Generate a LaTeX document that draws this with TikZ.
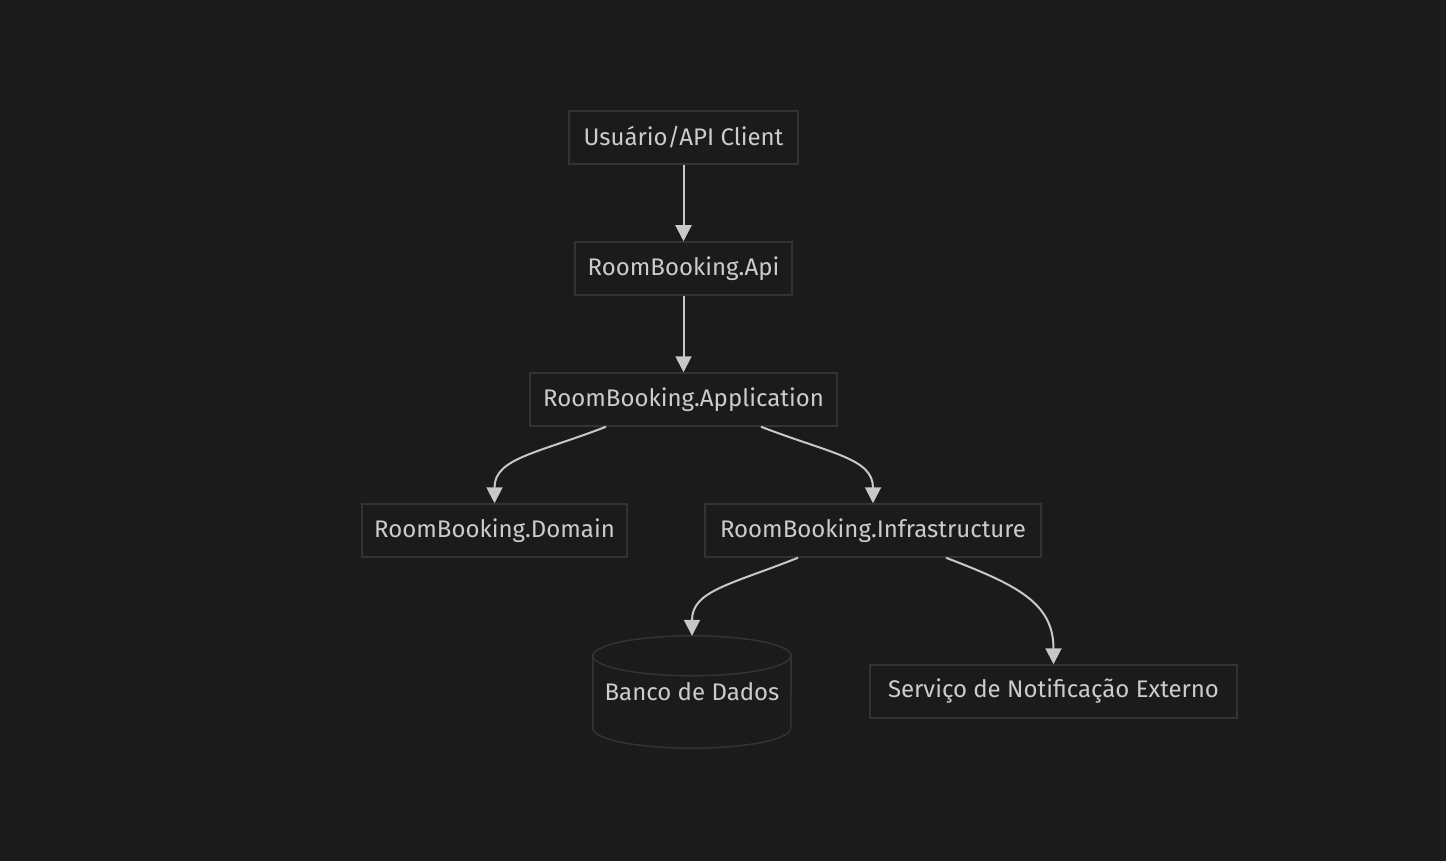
\documentclass[tikz,border=0pt]{standalone}
\usepackage{fontspec}
\setmainfont{Fira Sans}
\usetikzlibrary{arrows.meta}
\definecolor{bgcol}{HTML}{1B1B1B}
\definecolor{boxline}{HTML}{333333}
\definecolor{boxtext}{HTML}{CCCCCC}
\definecolor{linkcol}{HTML}{C8C8C8}

\begin{document}
\begin{tikzpicture}[x=1pt,y=-1pt,
  every node/.style={font=\fontsize{24}{28}\selectfont, text=boxtext},
  box/.style={draw=boxline, line width=1.5pt, fill=bgcol, minimum height=53pt, inner sep=0pt},
  store/.style={minimum width=198pt, minimum height=112pt, inner sep=0pt},
  cyl/.style={draw=boxline, line width=1.5pt},
  link/.style={draw=linkcol, line width=2pt, -{Triangle[width=16pt,length=16pt]}}]

\fill[bgcol] (0,0) rectangle (1446,861);
\useasboundingbox (0,0) rectangle (1446,861);

\node[box, minimum width=229pt] (usr) at (683.5,137.5) {Usuário/API Client};
\node[box, minimum width=217pt] (api) at (683.5,268.5) {RoomBooking.Api};
\node[box, minimum width=307pt] (app) at (683.5,399.5) {RoomBooking.Application};
\node[box, minimum width=265pt] (dom) at (494.5,530.5) {RoomBooking.Domain};
\node[box, minimum width=336pt] (infra) at (873,530.5) {RoomBooking.Infrastructure};
\node[box, minimum width=367pt] (notif) at (1053.5,691.5) {Serviço de Notificação Externo};

% database drum
\node[store] (db) at (692,692) {Banco de Dados};
\draw[cyl] ([yshift=-20pt]db.north west) -- ([yshift=20pt]db.south west)
  arc[start angle=180, end angle=360, x radius=99pt, y radius=20pt]
  -- ([yshift=-20pt]db.north east)
  arc[start angle=0, end angle=180, x radius=99pt, y radius=20pt] -- cycle;
\draw[cyl] ([yshift=-20pt]db.north west)
  arc[start angle=180, end angle=360, x radius=99pt, y radius=20pt];

\draw[link] (usr) -- (api);
\draw[link] (api) -- (app);
\draw[link] ([xshift=-77.5pt]app.south) .. controls +(-70,27) and +(0,-45) .. (dom.north);
\draw[link] ([xshift=77.5pt]app.south) .. controls +(70,27) and +(0,-45) .. (infra.north);
\draw[link] ([xshift=-75pt]infra.south) .. controls +(-68,27) and +(0,-45) .. (db.north);
\draw[link] ([xshift=73pt]infra.south) .. controls +(70,27) and +(0,-62) .. (notif.north);

\end{tikzpicture}
\end{document}
